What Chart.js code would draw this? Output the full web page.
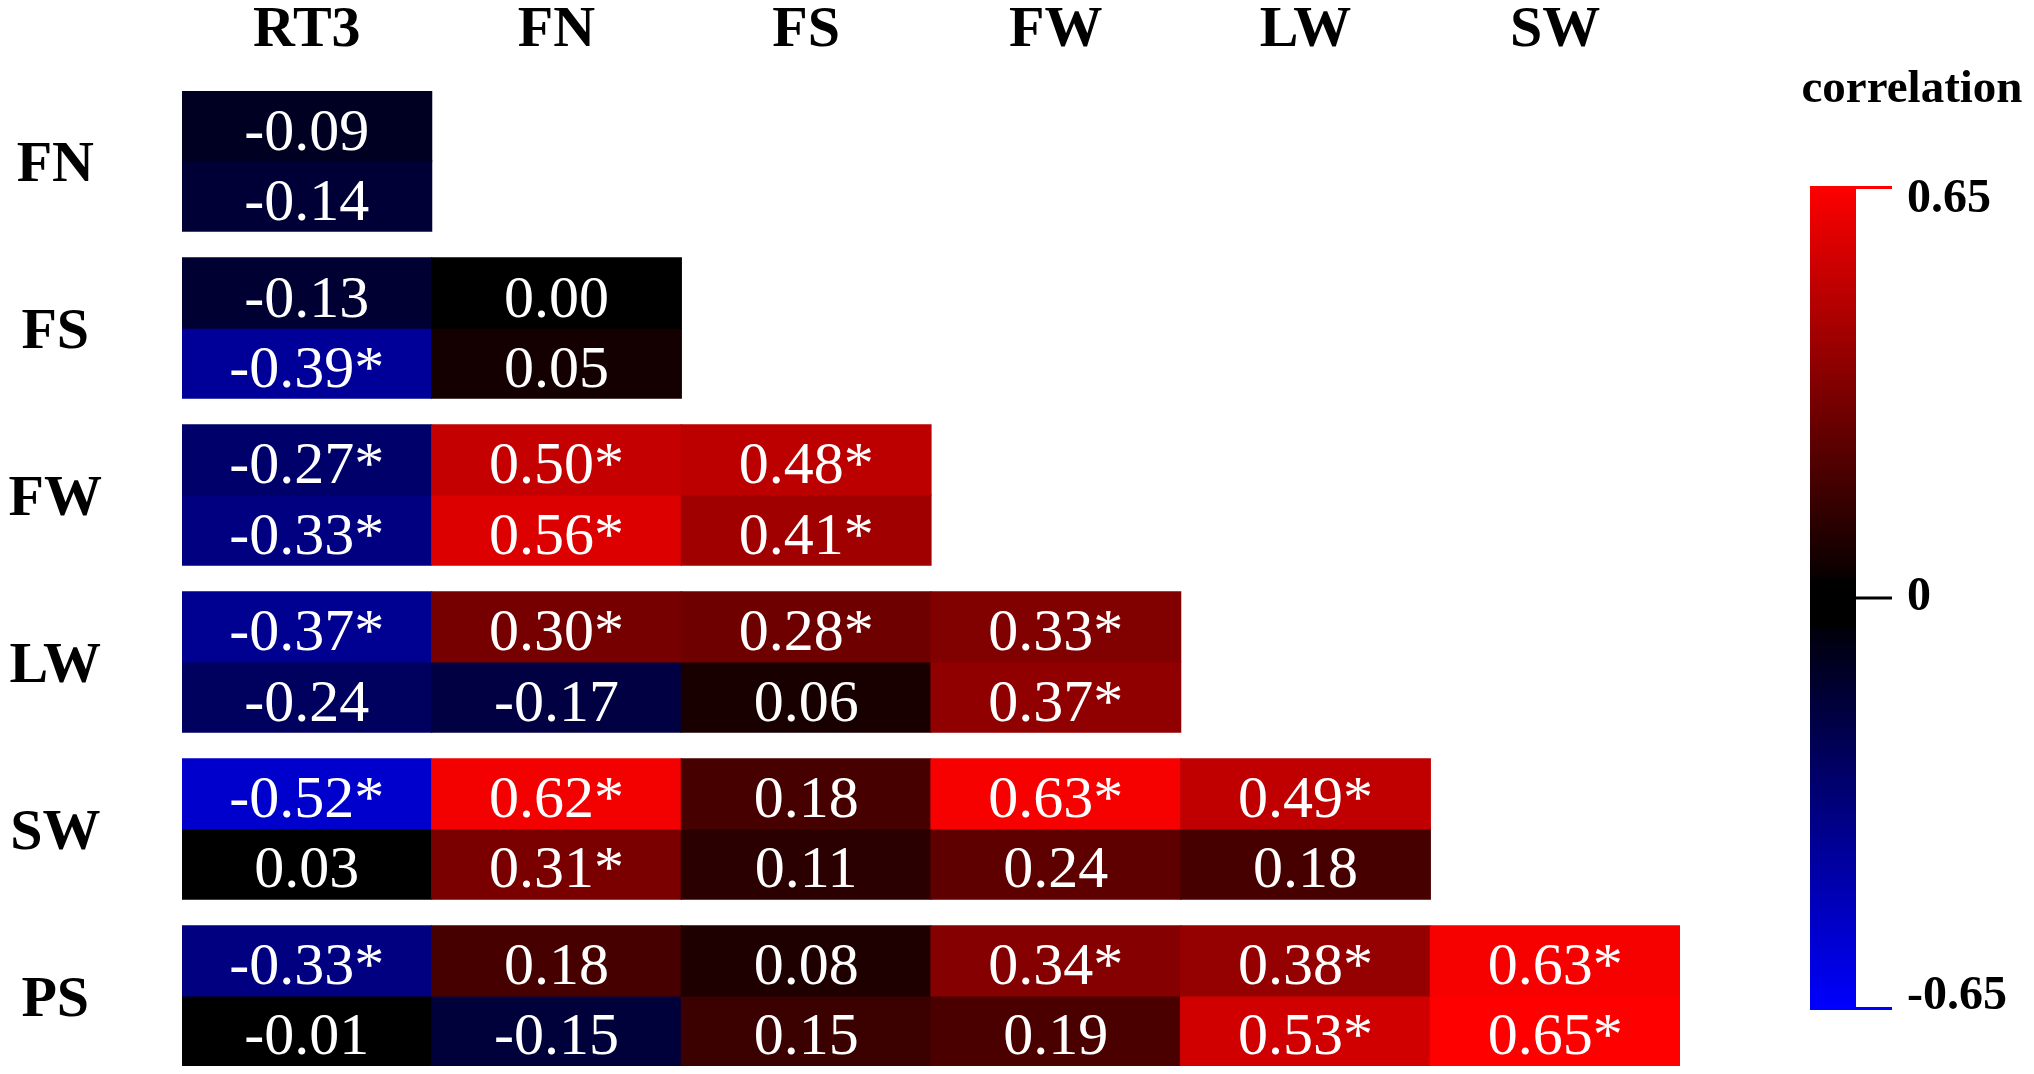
<!DOCTYPE html>
<html>
<head>
<meta charset="utf-8">
<script src="https://cdn.jsdelivr.net/npm/chart.js@4"></script>
<style>
  html, body { margin: 0; padding: 0; background: #ffffff; }
  #wrap { width: 2034px; height: 1074px; }
</style>
</head>
<body>
<div id="wrap"><canvas id="c" width="2034" height="1074"></canvas></div>
<script>
// ---- data ----
const columnLabels = ['RT3', 'FN', 'FS', 'FW', 'LW', 'SW'];
const rowLabels = ['FN', 'FS', 'FW', 'LW', 'SW', 'PS'];
// upper value in each cell block
const upperValues = [
  [-0.09],
  [-0.13, 0.00],
  [-0.27, 0.50, 0.48],
  [-0.37, 0.30, 0.28, 0.33],
  [-0.52, 0.62, 0.18, 0.63, 0.49],
  [-0.33, 0.18, 0.08, 0.34, 0.38, 0.63]
];
const upperSignificant = [
  [false],
  [false, false],
  [true, true, true],
  [true, true, true, true],
  [true, true, false, true, true],
  [true, false, false, true, true, true]
];
// lower value in each cell block
const lowerValues = [
  [-0.14],
  [-0.39, 0.05],
  [-0.33, 0.56, 0.41],
  [-0.24, -0.17, 0.06, 0.37],
  [0.03, 0.31, 0.11, 0.24, 0.18],
  [-0.01, -0.15, 0.15, 0.19, 0.53, 0.65]
];
const lowerSignificant = [
  [false],
  [true, false],
  [true, true, true],
  [false, false, false, true],
  [false, true, false, false, false],
  [false, false, false, false, true, true]
];
const colorbarTitle = 'correlation';
const colorbarMin = -0.65;
const colorbarMax = 0.65;
const colorbarTicks = [0.65, 0, -0.65];
const colorbarTickLabels = ['0.65', '0', '-0.65'];

// ---- helpers ----
const SUB = 0.42; // height of one sub-row in row units (block = 2*SUB, gap = 1-2*SUB)
function colorFor(v) {
  if (Math.abs(v) < 0.04) return 'rgb(0,0,0)';
  const t = Math.min(1, Math.abs(v) / colorbarMax);
  const c = Math.round(255 * t);
  return v >= 0 ? `rgb(${c},0,0)` : `rgb(0,0,${c})`;
}
function fmt(v, sig) {
  return v.toFixed(2) + (sig ? '*' : '');
}

const datasets = [];
const cellInfo = [];
rowLabels.forEach((rl, r) => {
  [[upperValues, upperSignificant], [lowerValues, lowerSignificant]].forEach(([vals, sigs], s) => {
    const rowVals = vals[r];
    datasets.push({
      data: columnLabels.map((c, ci) => ci < rowVals.length ? [r + s * SUB, r + (s + 1) * SUB] : null),
      backgroundColor: columnLabels.map((c, ci) => ci < rowVals.length ? colorFor(rowVals[ci]) : 'rgba(0,0,0,0)'),
      borderWidth: 0,
      grouped: false,
      barPercentage: 1,
      categoryPercentage: 1,
      inflateAmount: 0.6
    });
    cellInfo.push(columnLabels.map((c, ci) => ci < rowVals.length ? fmt(rowVals[ci], sigs[r][ci]) : null));
  });
});

const cellTextPlugin = {
  id: 'cellText',
  afterDatasetsDraw(chart) {
    const ctx = chart.ctx;
    ctx.save();
    ctx.fillStyle = '#ffffff';
    ctx.font = '60px "Liberation Serif", "Times New Roman", serif';
    ctx.textAlign = 'center';
    ctx.textBaseline = 'alphabetic';
    chart.data.datasets.forEach((ds, d) => {
      const meta = chart.getDatasetMeta(d);
      meta.data.forEach((el, i) => {
        const txt = cellInfo[d][i];
        if (!txt) return;
        const cy = (el.y + el.base) / 2;
        ctx.fillText(txt, el.x, cy + 23.5);
      });
    });
    ctx.restore();
  }
};

const colorbarPlugin = {
  id: 'colorbar',
  afterDraw(chart) {
    const ctx = chart.ctx;
    const left = 1810, right = 1856, top = 186, bottom = 1010;
    const yFor = v => top + (colorbarMax - v) / (colorbarMax - colorbarMin) * (bottom - top);
    const off = v => (colorbarMax - v) / (colorbarMax - colorbarMin);
    ctx.save();
    const g = ctx.createLinearGradient(0, top, 0, bottom);
    g.addColorStop(0, 'rgb(255,0,0)');
    g.addColorStop(off(0.035), 'rgb(10,0,0)');
    g.addColorStop(off(0.03), 'rgb(0,0,0)');
    g.addColorStop(off(-0.045), 'rgb(0,0,0)');
    g.addColorStop(off(-0.05), 'rgb(0,0,12)');
    g.addColorStop(1, 'rgb(0,0,255)');
    ctx.fillStyle = g;
    ctx.fillRect(left, top, right - left, bottom - top);
    // ticks
    colorbarTicks.forEach((v, i) => {
      let y = yFor(v);
      if (i === 0) y += 1.5;
      if (i === colorbarTicks.length - 1) y -= 1.5;
      ctx.strokeStyle = v === 0 ? '#000000' : colorFor(v);
      ctx.lineWidth = 3;
      ctx.beginPath();
      ctx.moveTo(right, y);
      ctx.lineTo(1892, y);
      ctx.stroke();
      ctx.fillStyle = '#000000';
      ctx.font = 'bold 48px "Liberation Serif", "Times New Roman", serif';
      ctx.textAlign = 'left';
      ctx.textBaseline = 'middle';
      let ly = y;
      if (i === 0) ly = y + 12;
      if (i === colorbarTicks.length - 1) ly = y - 12;
      ctx.fillText(colorbarTickLabels[i], 1907, ly);
    });
    // title
    ctx.fillStyle = '#000000';
    ctx.font = 'bold 47px "Liberation Serif", "Times New Roman", serif';
    ctx.textAlign = 'center';
    ctx.textBaseline = 'alphabetic';
    ctx.fillText(colorbarTitle, 1912, 102);
    ctx.restore();
  }
};

function zeroPadding(scale) {
  scale.paddingTop = 0;
  scale.paddingBottom = 0;
  scale.paddingLeft = 0;
  scale.paddingRight = 0;
}

new Chart(document.getElementById('c'), {
  type: 'bar',
  data: { labels: columnLabels, datasets },
  options: {
    responsive: false,
    devicePixelRatio: 1,
    animation: false,
    events: [],
    layout: { autoPadding: false, padding: { left: 0, right: 354, top: 0, bottom: 8 } },
    plugins: { legend: { display: false }, tooltip: { enabled: false } },
    scales: {
      x: {
        type: 'category',
        position: 'top',
        offset: true,
        grid: { display: false, drawTicks: false },
        border: { display: false },
        ticks: {
          color: '#000000',
          padding: 25,
          maxRotation: 0,
          font: { family: '"Liberation Serif", "Times New Roman", serif', weight: 'bold', size: 58 }
        },
        afterFit(scale) { scale.height = 91; zeroPadding(scale); }
      },
      y: {
        type: 'linear',
        position: 'left',
        reverse: true,
        min: 0,
        max: 5 + 2 * SUB,
        grid: { display: false, drawTicks: false },
        border: { display: false },
        afterBuildTicks(scale) {
          scale.ticks = rowLabels.map((_, i) => ({ value: i + SUB }));
        },
        ticks: {
          color: '#000000',
          crossAlign: 'center',
          padding: 80,
          labelOffset: 5,
          autoSkip: false,
          callback: (value, index) => rowLabels[index],
          font: { family: '"Liberation Serif", "Times New Roman", serif', weight: 'bold', size: 58 }
        },
        afterFit(scale) { scale.width = 182; zeroPadding(scale); }
      }
    }
  },
  plugins: [cellTextPlugin, colorbarPlugin]
});
</script>
</body>
</html>
